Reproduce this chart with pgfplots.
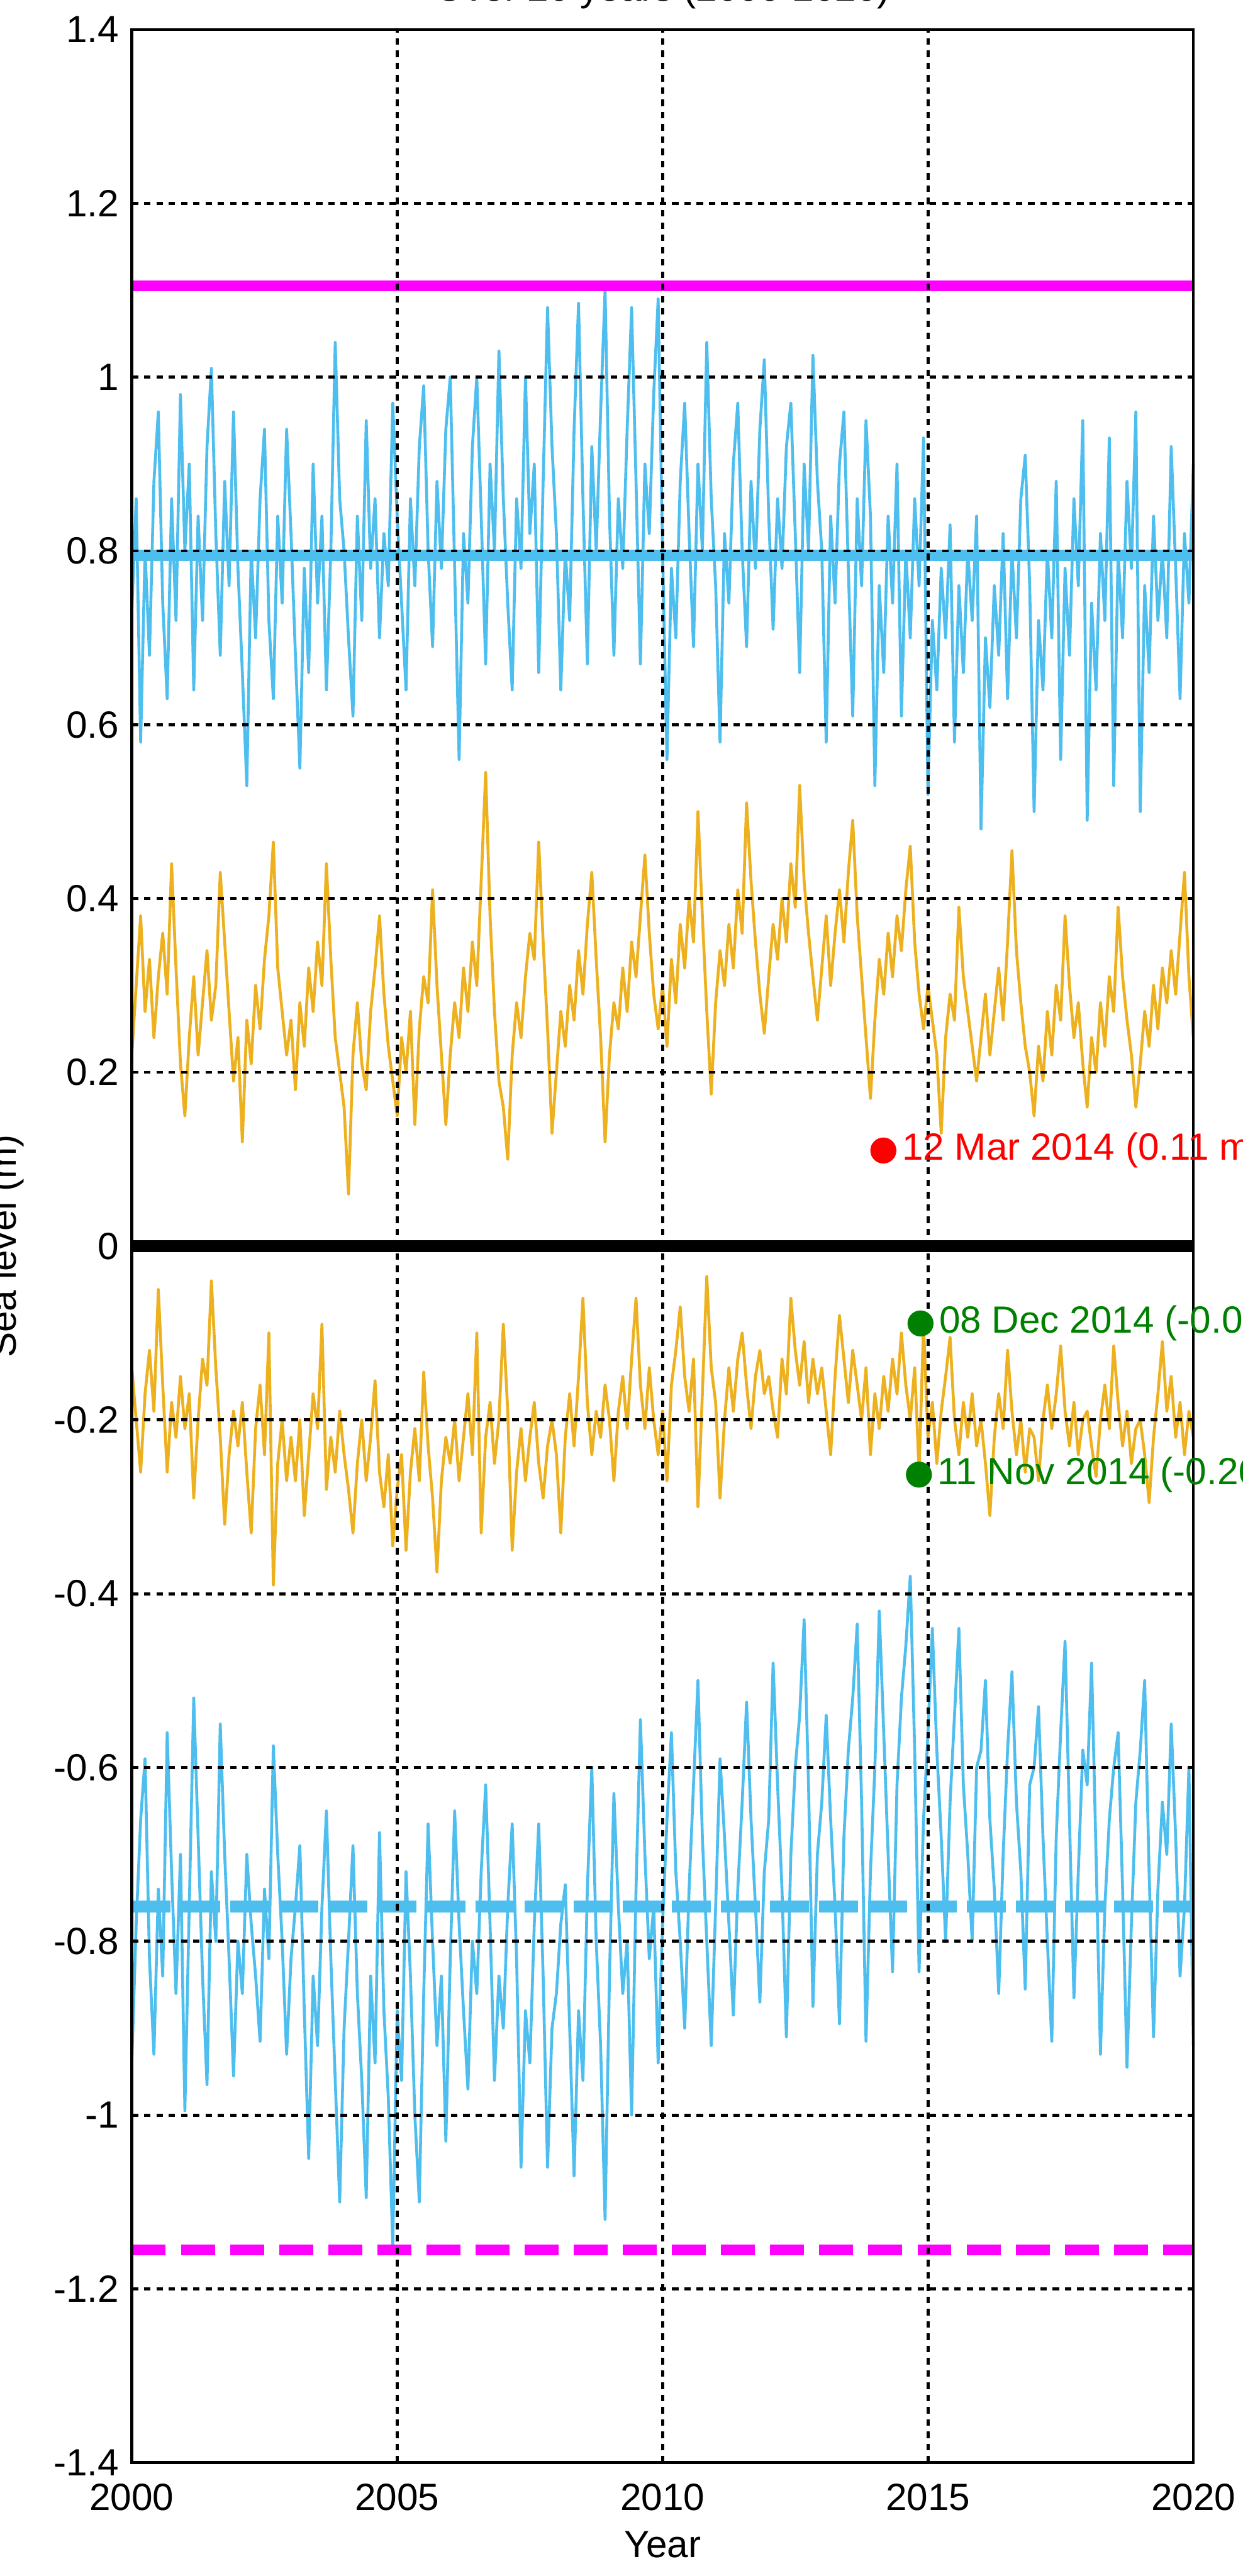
\documentclass[border=0pt]{standalone}
\usepackage{fontspec}
\setmainfont{Liberation Sans}
\usepackage{pgfplots}
\usepackage{pgfplotstable}
\pgfplotsset{compat=1.18}

\newcommand{\fs}{\fontsize{10.5}{12.6}\selectfont}
\definecolor{tidecyan}{RGB}{77,190,238}
\definecolor{tideorange}{RGB}{237,177,32}
\definecolor{markgreen}{RGB}{0,128,0}
\definecolor{limitmag}{RGB}{255,0,255}

% monthly values: a = high water, b = upper residual, c = lower residual, d = low water
\pgfplotstableread{
t a b c d
2000.000 0.73 0.22 -0.14 -0.94
2000.083 0.86 0.30 -0.20 -0.78
2000.167 0.58 0.38 -0.26 -0.66
2000.250 0.80 0.27 -0.17 -0.59
2000.333 0.68 0.33 -0.12 -0.82
2000.417 0.88 0.24 -0.19 -0.93
2000.500 0.96 0.31 -0.05 -0.74
2000.583 0.74 0.36 -0.16 -0.84
2000.667 0.63 0.29 -0.26 -0.56
2000.750 0.86 0.44 -0.18 -0.72
2000.833 0.72 0.32 -0.22 -0.86
2000.917 0.98 0.21 -0.15 -0.70
2001.000 0.80 0.15 -0.21 -0.995
2001.083 0.90 0.24 -0.17 -0.76
2001.167 0.64 0.31 -0.29 -0.52
2001.250 0.84 0.22 -0.20 -0.68
2001.333 0.72 0.28 -0.13 -0.84
2001.417 0.92 0.34 -0.16 -0.965
2001.500 1.01 0.26 -0.04 -0.72
2001.583 0.82 0.30 -0.14 -0.80
2001.667 0.68 0.43 -0.22 -0.55
2001.750 0.88 0.35 -0.32 -0.70
2001.833 0.76 0.27 -0.24 -0.82
2001.917 0.96 0.19 -0.19 -0.955
2002.000 0.78 0.24 -0.23 -0.80
2002.083 0.66 0.12 -0.18 -0.86
2002.167 0.53 0.26 -0.26 -0.70
2002.250 0.80 0.21 -0.33 -0.78
2002.333 0.70 0.30 -0.21 -0.84
2002.417 0.86 0.25 -0.16 -0.915
2002.500 0.94 0.33 -0.24 -0.74
2002.583 0.72 0.38 -0.10 -0.82
2002.667 0.63 0.465 -0.39 -0.575
2002.750 0.84 0.32 -0.25 -0.70
2002.833 0.74 0.27 -0.20 -0.80
2002.917 0.94 0.22 -0.27 -0.93
2003.000 0.82 0.26 -0.22 -0.82
2003.083 0.68 0.18 -0.27 -0.76
2003.167 0.55 0.28 -0.20 -0.69
2003.250 0.78 0.23 -0.31 -0.88
2003.333 0.66 0.32 -0.24 -1.05
2003.417 0.90 0.27 -0.17 -0.84
2003.500 0.74 0.35 -0.21 -0.92
2003.583 0.84 0.30 -0.09 -0.76
2003.667 0.64 0.44 -0.28 -0.65
2003.750 0.80 0.33 -0.22 -0.82
2003.833 1.04 0.24 -0.26 -0.96
2003.917 0.86 0.20 -0.19 -1.10
2004.000 0.80 0.16 -0.24 -0.90
2004.083 0.70 0.06 -0.28 -0.80
2004.167 0.61 0.22 -0.33 -0.69
2004.250 0.84 0.28 -0.25 -0.86
2004.333 0.72 0.21 -0.20 -0.96
2004.417 0.95 0.18 -0.27 -1.095
2004.500 0.78 0.27 -0.22 -0.84
2004.583 0.86 0.32 -0.155 -0.94
2004.667 0.70 0.38 -0.26 -0.675
2004.750 0.82 0.29 -0.30 -0.88
2004.833 0.76 0.23 -0.24 -0.98
2004.917 0.97 0.19 -0.345 -1.15
2005.000 0.84 0.15 -0.28 -0.88
2005.083 0.74 0.24 -0.24 -0.96
2005.167 0.64 0.20 -0.35 -0.72
2005.250 0.86 0.27 -0.26 -0.84
2005.333 0.76 0.14 -0.21 -1.00
2005.417 0.92 0.25 -0.27 -1.10
2005.500 0.99 0.31 -0.145 -0.86
2005.583 0.80 0.28 -0.23 -0.665
2005.667 0.69 0.41 -0.29 -0.80
2005.750 0.88 0.30 -0.375 -0.92
2005.833 0.78 0.22 -0.27 -0.84
2005.917 0.94 0.14 -0.22 -1.03
2006.000 1.00 0.22 -0.25 -0.82
2006.083 0.78 0.28 -0.20 -0.65
2006.167 0.56 0.24 -0.27 -0.78
2006.250 0.82 0.32 -0.22 -0.88
2006.333 0.74 0.27 -0.17 -0.97
2006.417 0.92 0.35 -0.24 -0.80
2006.500 1.00 0.30 -0.10 -0.86
2006.583 0.84 0.42 -0.33 -0.72
2006.667 0.67 0.545 -0.22 -0.62
2006.750 0.90 0.38 -0.18 -0.78
2006.833 0.80 0.27 -0.25 -0.96
2006.917 1.03 0.19 -0.20 -0.84
2007.000 0.86 0.16 -0.09 -0.90
2007.083 0.74 0.10 -0.19 -0.76
2007.167 0.64 0.22 -0.35 -0.665
2007.250 0.86 0.28 -0.26 -0.82
2007.333 0.78 0.24 -0.21 -1.06
2007.417 1.00 0.31 -0.27 -0.88
2007.500 0.82 0.36 -0.22 -0.94
2007.583 0.90 0.33 -0.18 -0.78
2007.667 0.66 0.465 -0.25 -0.665
2007.750 0.88 0.35 -0.29 -0.84
2007.833 1.08 0.25 -0.23 -1.06
2007.917 0.92 0.13 -0.20 -0.90
2008.000 0.82 0.20 -0.24 -0.86
2008.083 0.64 0.27 -0.33 -0.78
2008.167 0.80 0.23 -0.22 -0.735
2008.250 0.72 0.30 -0.17 -0.90
2008.333 0.94 0.26 -0.23 -1.07
2008.417 1.085 0.34 -0.15 -0.88
2008.500 0.86 0.29 -0.06 -0.96
2008.583 0.67 0.37 -0.18 -0.74
2008.667 0.92 0.43 -0.24 -0.60
2008.750 0.80 0.33 -0.19 -0.80
2008.833 0.96 0.24 -0.22 -0.92
2008.917 1.10 0.12 -0.16 -1.12
2009.000 0.84 0.22 -0.20 -0.84
2009.083 0.68 0.28 -0.27 -0.63
2009.167 0.86 0.25 -0.19 -0.76
2009.250 0.78 0.32 -0.15 -0.86
2009.333 0.94 0.27 -0.21 -0.80
2009.417 1.08 0.35 -0.13 -1.00
2009.500 0.88 0.31 -0.06 -0.74
2009.583 0.67 0.38 -0.16 -0.545
2009.667 0.90 0.45 -0.21 -0.70
2009.750 0.82 0.36 -0.14 -0.82
2009.833 0.98 0.29 -0.20 -0.76
2009.917 1.09 0.25 -0.24 -0.94
2010.000 0.80 0.30 -0.19 -0.78
2010.083 0.56 0.23 -0.27 -0.66
2010.167 0.78 0.33 -0.16 -0.56
2010.250 0.70 0.28 -0.12 -0.72
2010.333 0.88 0.37 -0.07 -0.80
2010.417 0.97 0.32 -0.15 -0.90
2010.500 0.82 0.40 -0.19 -0.74
2010.583 0.69 0.35 -0.13 -0.62
2010.667 0.90 0.50 -0.30 -0.50
2010.750 0.80 0.38 -0.17 -0.68
2010.833 1.04 0.27 -0.035 -0.80
2010.917 0.86 0.175 -0.14 -0.92
2011.000 0.76 0.28 -0.18 -0.76
2011.083 0.58 0.34 -0.29 -0.59
2011.167 0.82 0.30 -0.20 -0.68
2011.250 0.74 0.37 -0.14 -0.78
2011.333 0.90 0.32 -0.19 -0.885
2011.417 0.97 0.41 -0.13 -0.74
2011.500 0.80 0.36 -0.10 -0.64
2011.583 0.69 0.51 -0.16 -0.525
2011.667 0.88 0.42 -0.21 -0.66
2011.750 0.78 0.35 -0.15 -0.76
2011.833 0.94 0.29 -0.12 -0.87
2011.917 1.02 0.245 -0.17 -0.72
2012.000 0.84 0.31 -0.15 -0.66
2012.083 0.71 0.37 -0.19 -0.48
2012.167 0.86 0.33 -0.22 -0.62
2012.250 0.78 0.40 -0.13 -0.74
2012.333 0.92 0.35 -0.17 -0.91
2012.417 0.97 0.44 -0.06 -0.70
2012.500 0.82 0.39 -0.12 -0.60
2012.583 0.66 0.53 -0.16 -0.54
2012.667 0.90 0.42 -0.11 -0.43
2012.750 0.80 0.36 -0.18 -0.62
2012.833 1.025 0.31 -0.13 -0.875
2012.917 0.88 0.26 -0.17 -0.70
2013.000 0.80 0.32 -0.14 -0.64
2013.083 0.58 0.38 -0.19 -0.54
2013.167 0.84 0.30 -0.24 -0.66
2013.250 0.74 0.36 -0.15 -0.76
2013.333 0.90 0.41 -0.08 -0.895
2013.417 0.96 0.35 -0.13 -0.68
2013.500 0.78 0.43 -0.18 -0.58
2013.583 0.61 0.49 -0.12 -0.52
2013.667 0.86 0.38 -0.16 -0.435
2013.750 0.76 0.31 -0.20 -0.64
2013.833 0.95 0.24 -0.14 -0.915
2013.917 0.84 0.17 -0.24 -0.72
2014.000 0.53 0.26 -0.17 -0.60
2014.083 0.76 0.33 -0.21 -0.42
2014.167 0.66 0.29 -0.15 -0.56
2014.250 0.84 0.36 -0.19 -0.70
2014.333 0.74 0.31 -0.13 -0.835
2014.417 0.90 0.38 -0.17 -0.62
2014.500 0.61 0.34 -0.10 -0.52
2014.583 0.80 0.41 -0.16 -0.46
2014.667 0.70 0.46 -0.20 -0.38
2014.750 0.86 0.35 -0.14 -0.58
2014.833 0.76 0.29 -0.26 -0.835
2014.917 0.93 0.25 -0.09 -0.66
2015.000 0.52 0.30 -0.22 -0.56
2015.083 0.72 0.26 -0.18 -0.44
2015.167 0.64 0.22 -0.25 -0.58
2015.250 0.78 0.13 -0.19 -0.68
2015.333 0.70 0.24 -0.15 -0.80
2015.417 0.83 0.29 -0.105 -0.64
2015.500 0.58 0.26 -0.20 -0.54
2015.583 0.76 0.39 -0.24 -0.44
2015.667 0.66 0.31 -0.18 -0.62
2015.750 0.80 0.27 -0.22 -0.70
2015.833 0.72 0.23 -0.17 -0.80
2015.917 0.84 0.19 -0.23 -0.60
2016.000 0.48 0.24 -0.20 -0.58
2016.083 0.70 0.29 -0.25 -0.50
2016.167 0.62 0.22 -0.31 -0.66
2016.250 0.76 0.27 -0.22 -0.74
2016.333 0.68 0.32 -0.17 -0.86
2016.417 0.82 0.26 -0.21 -0.70
2016.500 0.63 0.35 -0.12 -0.58
2016.583 0.80 0.455 -0.19 -0.49
2016.667 0.70 0.34 -0.24 -0.64
2016.750 0.86 0.28 -0.20 -0.72
2016.833 0.91 0.23 -0.26 -0.855
2016.917 0.76 0.20 -0.21 -0.62
2017.000 0.50 0.15 -0.22 -0.60
2017.083 0.72 0.23 -0.27 -0.53
2017.167 0.64 0.19 -0.20 -0.68
2017.250 0.80 0.27 -0.16 -0.80
2017.333 0.70 0.22 -0.21 -0.915
2017.417 0.88 0.30 -0.17 -0.68
2017.500 0.56 0.26 -0.115 -0.56
2017.583 0.78 0.38 -0.19 -0.455
2017.667 0.68 0.30 -0.23 -0.66
2017.750 0.86 0.24 -0.18 -0.865
2017.833 0.76 0.28 -0.24 -0.72
2017.917 0.95 0.21 -0.20 -0.58
2018.000 0.49 0.16 -0.19 -0.62
2018.083 0.74 0.24 -0.23 -0.48
2018.167 0.64 0.20 -0.265 -0.70
2018.250 0.82 0.28 -0.20 -0.93
2018.333 0.72 0.23 -0.16 -0.76
2018.417 0.93 0.31 -0.21 -0.66
2018.500 0.53 0.27 -0.115 -0.60
2018.583 0.80 0.39 -0.18 -0.56
2018.667 0.70 0.31 -0.23 -0.74
2018.750 0.88 0.26 -0.19 -0.945
2018.833 0.78 0.22 -0.25 -0.78
2018.917 0.96 0.16 -0.21 -0.64
2019.000 0.50 0.21 -0.20 -0.58
2019.083 0.76 0.27 -0.24 -0.50
2019.167 0.66 0.23 -0.295 -0.72
2019.250 0.84 0.30 -0.22 -0.91
2019.333 0.72 0.25 -0.17 -0.74
2019.417 0.80 0.32 -0.11 -0.64
2019.500 0.70 0.28 -0.19 -0.70
2019.583 0.92 0.34 -0.15 -0.55
2019.667 0.78 0.29 -0.22 -0.68
2019.750 0.63 0.36 -0.18 -0.84
2019.833 0.82 0.43 -0.24 -0.76
2019.917 0.74 0.31 -0.19 -0.60
2020.000 0.90 0.24 -0.22 -0.92
}\sealevel

\begin{document}
\begin{tikzpicture}
\begin{axis}[
  scale only axis, width=294pt, height=674pt,
  xmin=2000, xmax=2020, ymin=-1.4, ymax=1.4,
  xtick={2000,2005,2010,2015,2020},
  ytick={-1.4,-1.2,-1,-0.8,-0.6,-0.4,-0.2,0,0.2,0.4,0.6,0.8,1,1.2,1.4},
  major tick length=0pt,
  grid=major,
  major grid style={black, line width=0.85pt, dash pattern=on 1.8pt off 1.6pt},
  axis line style={black, line width=0.85pt},
  axis on top, clip=false,
  tick label style={font=\fs, /pgf/number format/assume math mode=true},
  xticklabel style={/pgf/number format/1000 sep={}, yshift=-2.3pt},
  xlabel={Year}, ylabel={Sea level (m)}, title={Over 20 years (2000-2020)},
  every axis x label/.style={at={([yshift=-26.2pt]axis description cs:0.5,0)}, anchor=base, font=\fs},
  every axis y label/.style={at={([xshift=-32pt]axis description cs:0,0.5)}, rotate=90, anchor=base, font=\fs},
  every axis title/.style={at={([yshift=8.0pt]axis description cs:0.5,1)}, anchor=base, font=\fs},
]
\coordinate (ll) at (rel axis cs:0,0);
\coordinate (ur) at (rel axis cs:1,1);

% monthly series
\addplot[tidecyan, mark=none, line width=0.8pt, line join=round] table[x=t, y=a] {\sealevel};
\addplot[tideorange, mark=none, line width=0.8pt, line join=round] table[x=t, y=b] {\sealevel};
\addplot[tideorange, mark=none, line width=0.8pt, line join=round] table[x=t, y=c] {\sealevel};
\addplot[tidecyan, mark=none, line width=0.8pt, line join=round] table[x=t, y=d] {\sealevel};

% reference levels
\addplot[limitmag, mark=none, line width=3pt] coordinates {(2000,1.105) (2020,1.105)};
\addplot[tidecyan, mark=none, line width=3.2pt] coordinates {(2000,0.795) (2020,0.795)};
\addplot[black, mark=none, line width=3.2pt] coordinates {(2000,0) (2020,0)};
\addplot[tidecyan, mark=none, line width=3.2pt, dash pattern=on 10.8pt off 2.8pt] coordinates {(2000,-0.76) (2020,-0.76)};
\addplot[limitmag, mark=none, line width=3pt, dash pattern=on 9.4pt off 4.2pt] coordinates {(2000,-1.155) (2020,-1.155)};

% highlighted events
\addplot[only marks, mark=*, mark size=3.4pt, mark options={draw=red, fill=red},
  nodes near coords={12 Mar 2014 (0.11 m)},
  nodes near coords style={anchor=west, xshift=5pt, inner sep=0pt, font=\fs, text=red}]
  coordinates {(2014.16,0.11)};
\addplot[only marks, mark=*, mark size=3.4pt, mark options={draw=markgreen, fill=markgreen},
  nodes near coords={08 Dec 2014 (-0.09 m)},
  nodes near coords style={anchor=west, xshift=5pt, inner sep=0pt, font=\fs, text=markgreen}]
  coordinates {(2014.86,-0.089)};
\addplot[only marks, mark=*, mark size=3.4pt, mark options={draw=markgreen, fill=markgreen},
  nodes near coords={11 Nov 2014 (-0.26 m)},
  nodes near coords style={anchor=west, xshift=5pt, inner sep=0pt, font=\fs, text=markgreen}]
  coordinates {(2014.83,-0.263)};
\end{axis}
\pgfresetboundingbox
\useasboundingbox ([xshift=-36.5pt,yshift=-31.4pt]ll) rectangle ([xshift=13.6pt,yshift=8.2pt]ur);
\end{tikzpicture}
\end{document}
